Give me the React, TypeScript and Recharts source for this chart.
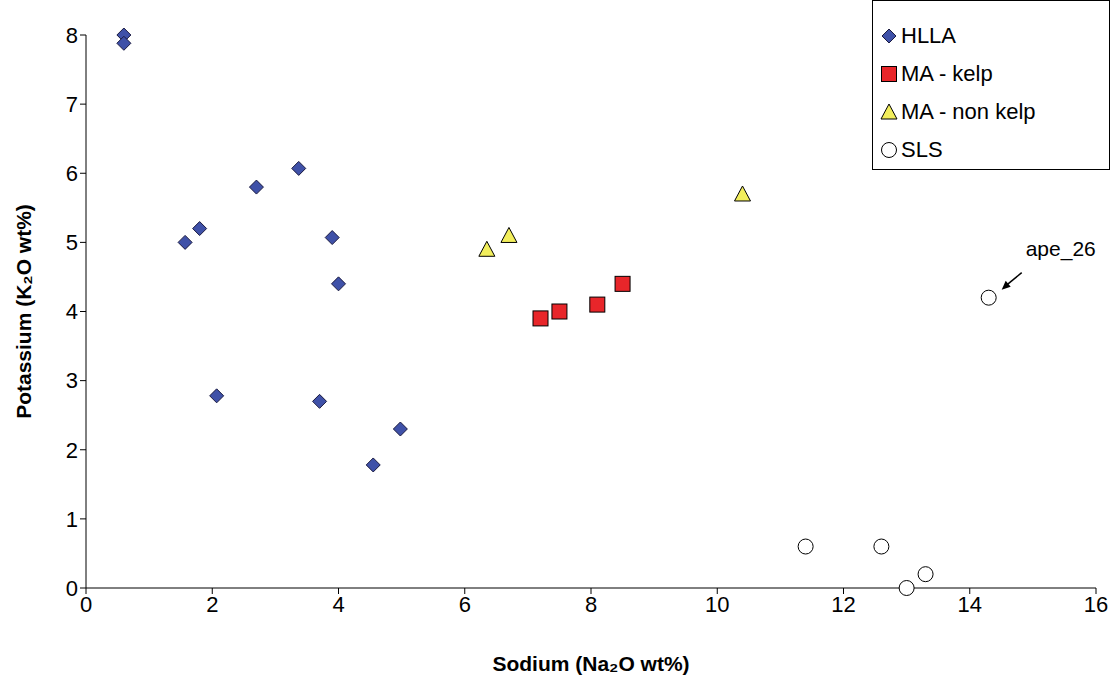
import React from "react";
import { ScatterChart, Scatter, XAxis, YAxis, ReferenceDot } from "recharts";

const HLLA = [
  { x: 0.6, y: 8.0 }, { x: 0.6, y: 7.88 }, { x: 1.57, y: 5.0 }, { x: 1.8, y: 5.2 },
  { x: 2.07, y: 2.78 }, { x: 2.7, y: 5.8 }, { x: 3.37, y: 6.07 }, { x: 3.7, y: 2.7 },
  { x: 3.9, y: 5.07 }, { x: 4.0, y: 4.4 }, { x: 4.55, y: 1.78 }, { x: 4.98, y: 2.3 },
];
const MA_KELP = [{ x: 7.2, y: 3.9 }, { x: 7.5, y: 4.0 }, { x: 8.1, y: 4.1 }, { x: 8.5, y: 4.4 }];
const MA_NON_KELP = [{ x: 6.35, y: 4.9 }, { x: 6.7, y: 5.1 }, { x: 10.4, y: 5.7 }];
const SLS = [{ x: 11.4, y: 0.6 }, { x: 12.6, y: 0.6 }, { x: 13.0, y: 0 }, { x: 13.3, y: 0.2 }, { x: 14.3, y: 4.2 }];
const X_TICKS = [0, 2, 4, 6, 8, 10, 12, 14, 16];
const Y_TICKS = [0, 1, 2, 3, 4, 5, 6, 7, 8];

const FONT = "'Liberation Sans', Arial, sans-serif";

const Diamond = ({ cx, cy }: any) => (
  <polygon points={`${cx},${cy - 7} ${cx + 7},${cy} ${cx},${cy + 7} ${cx - 7},${cy}`} fill="#3F51A8" stroke="#1a1a40" strokeWidth={1} />
);
const Square = ({ cx, cy }: any) => (
  <rect x={cx - 7.5} y={cy - 7.5} width={15} height={15} fill="#E8262A" stroke="#000" strokeWidth={1} />
);
const Triangle = ({ cx, cy }: any) => (
  <polygon points={`${cx},${cy - 8} ${cx + 8},${cy + 7} ${cx - 8},${cy + 7}`} fill="#F2EE5C" stroke="#000" strokeWidth={1} />
);
const Circle = ({ cx, cy }: any) => <circle cx={cx} cy={cy} r={7.5} fill="#fff" stroke="#000" strokeWidth={1} />;

const Annotation = ({ cx, cy }: any) => (
  <g>
    <line x1={cx + 33} y1={cy - 25} x2={cx + 16} y2={cy - 11} stroke="#000" strokeWidth={1.5} />
    <polygon points={`${cx + 13},${cy - 8} ${cx + 22},${cy - 11} ${cx + 17},${cy - 17}`} fill="#000" />
    <text x={cx + 37} y={cy - 42} fontSize={21} fontFamily={FONT} fill="#000">ape_26</text>
  </g>
);

const legendItems = [
  { label: "HLLA", Shape: Diamond },
  { label: "MA - kelp", Shape: Square },
  { label: "MA - non kelp", Shape: Triangle },
  { label: "SLS", Shape: Circle },
];

export default function App() {
  return (
    <div style={{ position: "absolute", left: 0, top: 0, width: 1112, height: 677, background: "#fff", fontFamily: FONT }}>
      <ScatterChart width={1112} height={677} margin={{ top: 35, right: 16, left: 0, bottom: 39 }}>
        <XAxis type="number" dataKey="x" domain={[0, 16]} ticks={X_TICKS} height={50}
          tick={{ fontSize: 22, fill: "#000", fontFamily: FONT }} stroke="#000" tickSize={6}
          label={{ value: "Sodium (Na\u2082O wt%)", position: "insideBottom", offset: -33, fontSize: 21, fontWeight: "bold", fill: "#000", fontFamily: FONT }} />
        <YAxis type="number" dataKey="y" domain={[0, 8]} ticks={Y_TICKS} width={86}
          tick={{ fontSize: 22, fill: "#000", fontFamily: FONT }} stroke="#000" tickSize={6}
          label={{ value: "Potassium (K\u2082O wt%)", angle: -90, position: "insideLeft", offset: 24, fontSize: 21, fontWeight: "bold", fill: "#000", fontFamily: FONT, style: { textAnchor: "middle" } }} />
        <Scatter data={HLLA} shape={Diamond} isAnimationActive={false} />
        <Scatter data={MA_KELP} shape={Square} isAnimationActive={false} />
        <Scatter data={MA_NON_KELP} shape={Triangle} isAnimationActive={false} />
        <Scatter data={SLS} shape={Circle} isAnimationActive={false} />
        <ReferenceDot x={14.3} y={4.2} shape={Annotation} ifOverflow="visible" />
      </ScatterChart>
      <div style={{ position: "absolute", left: 872, top: 0, width: 238, height: 170, border: "1px solid #000", background: "#fff", boxSizing: "border-box", padding: "16px 0 0 6px" }}>
        {legendItems.map(({ label, Shape }) => (
          <div key={label} style={{ display: "flex", alignItems: "center", height: 38, fontSize: 22 }}>
            <svg width={20} height={20} style={{ marginRight: 2 }}><Shape cx={10} cy={10} /></svg>
            {label}
          </div>
        ))}
      </div>
    </div>
  );
}
